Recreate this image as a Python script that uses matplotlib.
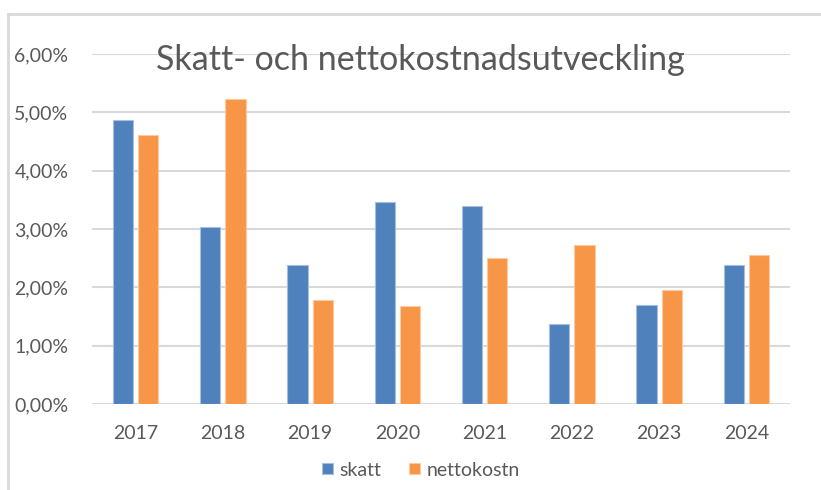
import numpy as np
import matplotlib
matplotlib.use("Agg")
import matplotlib.pyplot as plt
from matplotlib.ticker import FuncFormatter

# Data (percent)
years = ["2017", "2018", "2019", "2020", "2021", "2022", "2023", "2024"]
skatt = [4.87, 3.03, 2.38, 3.47, 3.40, 1.38, 1.69, 2.38]
nettokostn = [4.61, 5.22, 1.79, 1.68, 2.51, 2.72, 1.96, 2.55]

blue = "#4F81BD"
orange = "#F79646"
grey_text = "#595959"
grid_col = "#D9D9D9"

plt.rcParams['font.family'] = ['Lato', 'DejaVu Sans']

fig = plt.figure(figsize=(8.21, 4.90), dpi=100)
ax = fig.add_axes([92 / 821, 1 - 404 / 490, (790 - 92) / 821, (404 - 54) / 490])

x = np.arange(len(years))
w = 0.23
off = 0.145
ax.bar(x - off, skatt, w, color=blue, edgecolor="#A7BFDE", linewidth=0.8, label="skatt", zorder=3)
ax.bar(x + off, nettokostn, w, color=orange, edgecolor="#FBC9A2", linewidth=0.8, label="nettokostn", zorder=3)

ax.set_xlim(-0.5, len(years) - 0.5)
ax.set_ylim(0, 6)
ax.set_yticks(np.arange(0, 7, 1))
ax.yaxis.set_major_formatter(FuncFormatter(lambda v, p: f"{v:.2f}%".replace(".", ",")))
ax.set_xticks(x)
ax.set_xticklabels(years)
ax.yaxis.grid(True, color=grid_col, linewidth=1.5, zorder=0)
ax.set_axisbelow(True)
for s in ax.spines.values():
    s.set_visible(False)
ax.tick_params(axis="both", length=0, colors=grey_text, labelsize=14)
ax.tick_params(axis="y", pad=17)
ax.tick_params(axis="x", pad=15)

fig.text(0.512, 1 - 60 / 490, "Skatt- och nettokostnadsutveckling", ha="center", va="center",
         fontsize=24.5, color=grey_text)

leg = fig.legend(loc="center", bbox_to_anchor=(421 / 821, 1 - 470 / 490), ncol=2, frameon=False,
                 fontsize=14, handlelength=0.55, handleheight=0.55, handletextpad=0.35, columnspacing=1.4)
for t in leg.get_texts():
    t.set_color(grey_text)

# outer chart border (top and left visible in the reference)
fig.add_artist(plt.Line2D([8 / 821, 8 / 821], [0, 1 - 14 / 490], transform=fig.transFigure,
                          color="#D9D9D9", linewidth=2))
fig.add_artist(plt.Line2D([8 / 821, 1], [1 - 14 / 490, 1 - 14 / 490], transform=fig.transFigure,
                          color="#D9D9D9", linewidth=2))

fig.savefig("out.png", dpi=100)
